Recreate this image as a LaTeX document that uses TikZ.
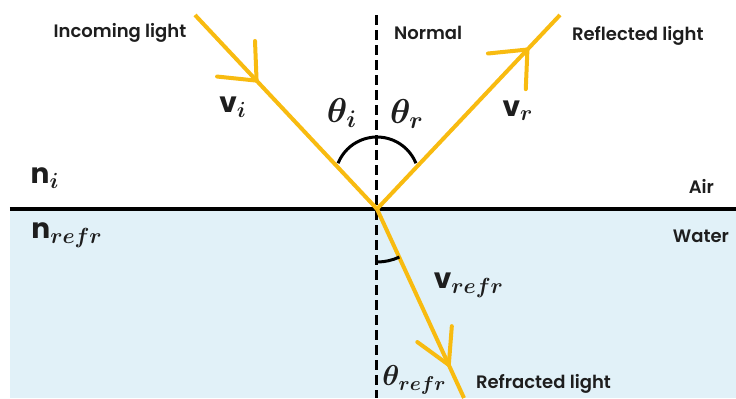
\documentclass[tikz,border=0pt]{standalone}
\usepackage{fontspec}
\setmainfont{Poppins}
\newfontfamily\lblfont{Poppins SemiBold}
\usepackage{tikz}
\usetikzlibrary{arrows.meta,decorations.markings}
\DeclareMathSizes{14}{14}{11}{8}
\DeclareMathSizes{15}{15}{10}{7}
\DeclareMathSizes{17}{17}{12}{9}
\definecolor{raygold}{HTML}{F8BB10}
\definecolor{waterblue}{HTML}{E1F1F8}
\definecolor{inkgray}{HTML}{1E1E1E}
\tikzset{
  every picture/.style={line join=round},
  lbl/.style={font=\lblfont\fontsize{9}{10}\selectfont, text=inkgray},
  veclbl/.style={font=\fontsize{14}{16}\selectfont\boldmath, text=inkgray, inner sep=0pt},
  anglelbl/.style={font=\fontsize{17}{19}\selectfont\boldmath, text=inkgray, inner sep=0pt},
  ray/.style={raygold, line width=2pt},
  normalline/.style={black, line width=1.5pt, dash pattern=on 5pt off 2.5pt},
  surface/.style={black, line width=2.2pt},
  anglearc/.style={black, line width=1.5pt},
  midbarb/.style n args={3}{postaction={decorate}, decoration={markings,
    mark=at position #1 with {\arrow{Straight Barb[length=#2, width=#3, round]}}}},
}

\begin{document}
\begin{tikzpicture}[x=0.5pt, y=0.5pt]
\useasboundingbox (0,0) rectangle (736,398);
% the water
\fill[waterblue] (10,0) rectangle (736,189);
% where the rays meet the surface, and where they end
\coordinate (O) at (377,189);
\coordinate (A) at (195,383);
\coordinate (R) at (560,383);
\coordinate (T) at (464,0);
\coordinate (N1) at (377,383);
\coordinate (N2) at (377,0);
\coordinate (S1) at (10,189);
\coordinate (S2) at (736,189);
\draw[normalline] (N1) -- (N2);
\draw[surface] (S1) -- (S2);
% the three rays
\draw[ray, midbarb={0.346}{15pt}{26pt}] (A) -- (O);
\draw[ray, midbarb={0.83}{15pt}{26pt}] (O) -- (R);
\draw[ray, midbarb={0.836}{17pt}{19pt}] (O) -- (T);
% the angles
\coordinate (Ci) at (377,219);
\draw[anglearc] (Ci) ++(158:42) arc[start angle=158, end angle=22, radius=42];
\draw[anglearc] (O) ++(-90:53) arc[start angle=-90, end angle=-65, radius=53];
% labels
\node[lbl] (incoming) at (120,365) {Incoming light};
\node[lbl, anchor=west] (normal) at (387,365) {Normal};
\node[lbl, anchor=west] (reflected) at (565,362) {Reflected light};
\node[lbl, anchor=east] (air) at (721,212) {Air};
\node[lbl, anchor=east] (water) at (736,162) {Water};
\node[lbl, anchor=west] (refracted) at (469,14) {Refracted light};
\node[veclbl] (ni) at (45,220) {\textbf{n}$_{i}$};
\node[veclbl, anchor=west] (nrefr) at (31,163) {\textbf{n}$_{refr}$};
\node[veclbl] (vi) at (233,291) {\textbf{v}$_{i}$};
\node[anglelbl] (thetai) at (342,285) {$\theta_{i}$};
\node[anglelbl] (thetar) at (407,284) {$\theta_{r}$};
\node[veclbl] (vr) at (518,287) {\textbf{v}$_{r}$};
\node[veclbl] (vrefr) at (469,113) {\textbf{v}$_{refr}$};
\node[anglelbl, font=\fontsize{15}{17}\selectfont\boldmath, anchor=west] (thetarefr) at (382,18) {$\theta_{refr}$};
\end{tikzpicture}
\end{document}
